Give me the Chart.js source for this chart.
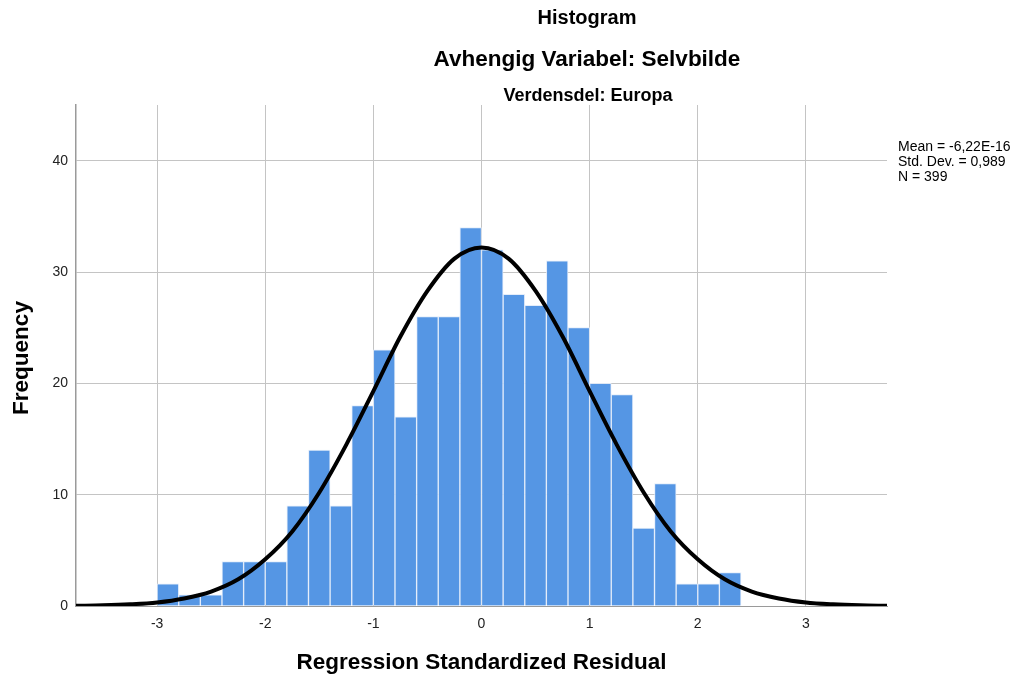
<!DOCTYPE html>
<html>
<head>
<meta charset="utf-8">
<script src="https://cdn.jsdelivr.net/npm/chart.js@4/dist/chart.umd.min.js"></script>
<style>
  body { margin: 0; background: #fff; }
  canvas { display: block; }
</style>
</head>
<body>
<canvas id="myChart" width="1022" height="681"></canvas>
<script>
// bin starts (width 0.2) and counts
var binStarts = [-3.0, -2.8, -2.6, -2.4, -2.2, -2.0, -1.8, -1.6, -1.4, -1.2, -1.0, -0.8, -0.6, -0.4,
                 -0.2, 0.0, 0.2, 0.4, 0.6, 0.8, 1.0, 1.2, 1.4, 1.6, 1.8, 2.0, 2.2];
var counts = [2, 1, 1, 4, 4, 4, 9, 14, 9, 18, 23, 17, 26, 26,
              34, 32, 28, 27, 31, 25, 20, 19, 7, 11, 2, 2, 3];
var binWidth = 0.2;

// normal curve, read at a few x positions
var curveX = [-3.75, -3.5, -3.25, -3.0, -2.75, -2.5, -2.25, -2.0, -1.75, -1.5, -1.25, -1.0, -0.75, -0.5, -0.25,
              0, 0.25, 0.5, 0.75, 1.0, 1.25, 1.5, 1.75, 2.0, 2.25, 2.5, 2.75, 3.0, 3.25, 3.5, 3.75];
var curveY = [0.02, 0.06, 0.15, 0.32, 0.68, 1.3, 2.4, 4.2, 6.7, 10.2, 14.5, 19.3, 24.2, 28.3, 31.2,
              32.2, 31.2, 28.3, 24.2, 19.3, 14.5, 10.2, 6.7, 4.2, 2.4, 1.3, 0.68, 0.32, 0.15, 0.06, 0.02];

var xTicks = [-3, -2, -1, 0, 1, 2, 3];
var yTicks = [0, 10, 20, 30, 40];
var statsText = ['Mean = -6,22E-16', 'Std. Dev. = 0,989', 'N = 399'];

var fontFam = '"Liberation Sans", Arial, sans-serif';

var barData = binStarts.map(function (s, i) { return { x: s + binWidth / 2, y: counts[i] }; });
var lineData = curveX.map(function (x, i) { return { x: x, y: curveY[i] }; });

// titles, axis titles and the stats box
var textPlugin = {
    id: 'texts',
    afterDraw: function (chart) {
        var ctx = chart.ctx;
        var area = chart.chartArea;
        ctx.save();
        ctx.fillStyle = '#000';
        ctx.textAlign = 'center';
        ctx.textBaseline = 'middle';
        ctx.font = 'bold 20px ' + fontFam;
        ctx.fillText('Histogram', 587, 18.5);
        ctx.font = 'bold 22.5px ' + fontFam;
        ctx.fillText('Avhengig Variabel: Selvbilde', 587, 60);
        ctx.font = 'bold 18px ' + fontFam;
        ctx.fillText('Verdensdel: Europa', 588, 96);

        ctx.font = 'bold 22.5px ' + fontFam;
        ctx.fillText('Regression Standardized Residual', (area.left + area.right) / 2, 663);
        ctx.save();
        ctx.translate(22, 358);
        ctx.rotate(-Math.PI / 2);
        ctx.fillText('Frequency', 0, 0);
        ctx.restore();

        ctx.textAlign = 'left';
        ctx.font = '14px ' + fontFam;
        for (var i = 0; i < statsText.length; i++) {
            ctx.fillText(statsText[i], 898, 147.5 + i * 15);
        }
        ctx.restore();
    }
};

var ctxChart = document.getElementById('myChart').getContext('2d');
var myChart = new Chart(ctxChart, {
    data: {
        datasets: [{
            type: 'line',
            data: lineData,
            borderColor: '#000',
            borderWidth: 4,
            pointRadius: 0,
            tension: 0.4,
            cubicInterpolationMode: 'monotone',
            fill: false,
            order: 1
        }, {
            type: 'bar',
            data: barData,
            backgroundColor: 'rgb(85, 150, 228)',
            borderColor: 'rgba(225, 235, 250, 0.9)',
            borderWidth: 1,
            barPercentage: 1,
            categoryPercentage: 1,
            order: 2
        }]
    },
    options: {
        responsive: false,
        animation: false,
        layout: { padding: { top: 105, right: 135, left: 0, bottom: 0 } },
        plugins: {
            legend: { display: false },
            tooltip: { enabled: false }
        },
        scales: {
            x: {
                type: 'linear',
                min: -3.75,
                max: 3.75,
                offset: false,
                afterBuildTicks: function (scale) {
                    scale.ticks = xTicks.map(function (v) { return { value: v }; });
                },
                afterFit: function (scale) { scale.height = 75; },
                grid: { color: '#c4c4c4', lineWidth: 1, drawTicks: false, offset: false },
                border: { color: '#9a9a9a', width: 1 },
                ticks: {
                    padding: 10,
                    color: '#222',
                    font: { family: fontFam, size: 14 },
                    callback: function (v) { return v; }
                }
            },
            y: {
                min: 0,
                max: 45,
                afterBuildTicks: function (scale) {
                    scale.ticks = yTicks.map(function (v) { return { value: v }; });
                },
                afterFit: function (scale) { scale.width = 76; },
                grid: { color: '#c4c4c4', lineWidth: 1, drawTicks: false },
                border: { color: '#9a9a9a', width: 1.5 },
                ticks: {
                    padding: 8,
                    color: '#222',
                    font: { family: fontFam, size: 14 }
                }
            }
        }
    },
    plugins: [textPlugin]
});
</script>
</body>
</html>
